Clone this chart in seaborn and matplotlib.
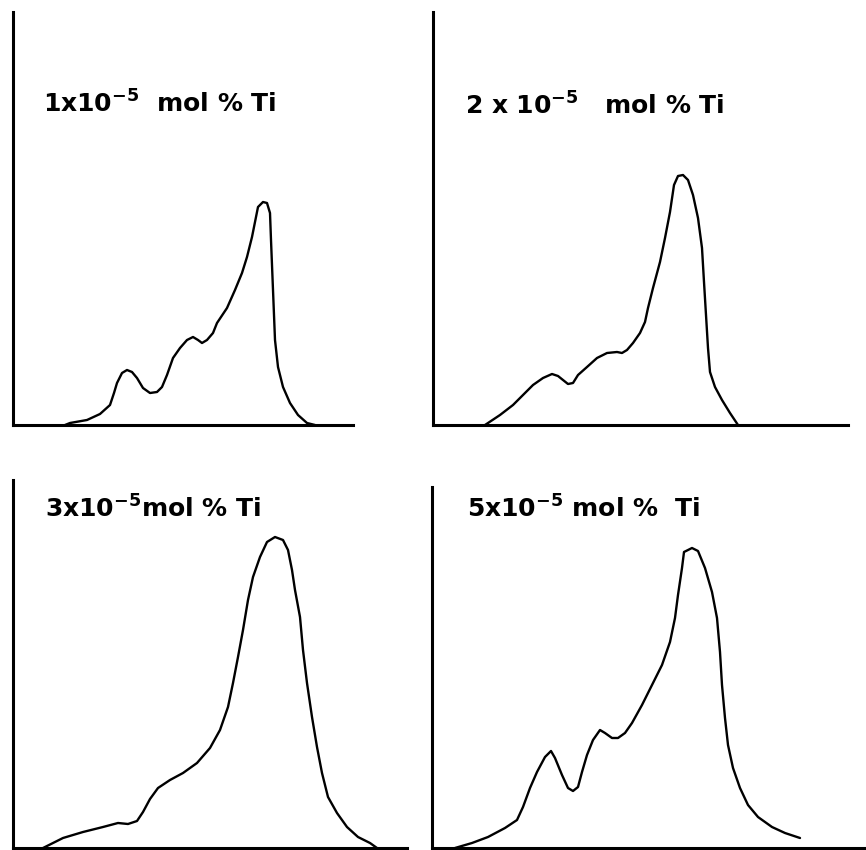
import matplotlib
matplotlib.use("Agg")
import matplotlib.pyplot as plt
import seaborn as sns

# Emission spectra, arbitrary units
# (x: along the wavelength axis, y: intensity above the baseline)
labels = [r"1x$10^{-5}$  mol % Ti", r"2 x $10^{-5}$   mol % Ti",
          r"3x$10^{-5}$mol % Ti", r"5x$10^{-5}$ mol %  Ti"]

x_1 = [52, 57, 74, 87, 97, 101, 104, 109, 114, 119, 124, 130, 137, 144, 149, 154, 160, 167, 174, 180,
       185, 189, 194, 200, 204, 214, 222, 229, 234, 239, 242, 245, 250, 254, 257, 258, 260, 262, 265, 270,
       277, 285, 294, 302]
y_1 = [0, 2, 5, 11, 20, 32, 42, 52, 55, 53, 47, 37, 32, 33, 38, 50, 67, 77, 85, 88,
       85, 82, 85, 92, 102, 117, 135, 152, 168, 188, 203, 218, 223, 222, 212, 185, 135, 85, 58, 38,
       22, 10, 2, 0]

x_2 = [52, 67, 80, 90, 100, 110, 119, 125, 130, 135, 140, 145, 154, 164, 174, 184, 189, 194, 200, 207,
       212, 215, 220, 227, 232, 237, 241, 245, 250, 255, 260, 265, 269, 271, 273, 275, 277, 282, 289, 297,
       305]
y_2 = [0, 10, 20, 30, 40, 47, 51, 49, 45, 41, 42, 50, 58, 67, 72, 73, 72, 75, 82, 92,
       103, 117, 137, 163, 187, 213, 240, 249, 250, 245, 230, 207, 177, 143, 110, 77, 53, 38, 25, 12,
       0]

x_3 = [30, 50, 70, 90, 105, 115, 124, 130, 137, 145, 157, 170, 184, 197, 207, 215, 220, 225, 230, 235,
       240, 247, 254, 262, 270, 275, 279, 282, 287, 290, 294, 299, 304, 309, 315, 324, 334, 345, 357, 364]
y_3 = [0, 10, 16, 21, 25, 24, 27, 36, 49, 60, 68, 75, 85, 100, 118, 141, 165, 191, 218, 248,
       271, 291, 306, 311, 308, 298, 278, 258, 231, 198, 165, 131, 101, 75, 51, 35, 21, 11, 5, 0]

x_4 = [23, 40, 56, 73, 85, 91, 98, 105, 113, 119, 123, 130, 136, 141, 146, 150, 155, 161, 168, 173,
       180, 186, 193, 200, 210, 220, 230, 238, 243, 246, 250, 252, 260, 266, 273, 280, 285, 288, 290, 293,
       296, 301, 308, 316, 326, 340, 353, 368]
y_4 = [0, 5, 11, 20, 28, 41, 60, 76, 91, 97, 90, 73, 60, 57, 61, 76, 93, 108, 118, 115,
       110, 110, 115, 125, 143, 163, 183, 206, 230, 253, 280, 296, 300, 297, 280, 256, 230, 196, 163, 130,
       103, 80, 60, 43, 31, 21, 15, 10]

series = [(x_1, y_1), (x_2, y_2), (x_3, y_3), (x_4, y_4)]

# panel boxes in pixels: left, top, right, bottom; label anchor in pixels
boxes = [(13, 12, 353, 425), (433, 12, 848, 425), (13, 480, 407, 848), (432, 487, 866, 848)]
label_pos = [(43, 113), (465, 115), (45, 518), (467, 518)]

W, H = 866, 850
sns.set_style("white")
plt.rcParams['mathtext.default'] = 'regular'
fig = plt.figure(figsize=(W / 100, H / 100), dpi=100)

for (xs, ys), (l, t, r, b), (tx, ty), lab in zip(series, boxes, label_pos, labels):
    ax = fig.add_axes([l / W, 1 - b / H, (r - l) / W, (b - t) / H])
    sns.lineplot(x=xs, y=ys, ax=ax, color='black', lw=1.7, sort=False, estimator=None)
    ax.lines[-1].set_solid_joinstyle('round')
    ax.set_xlim(0, r - l)
    ax.set_ylim(0, b - t)
    ax.set(xticks=[], yticks=[], xlabel='', ylabel='')
    sns.despine(ax=ax)
    for s in ['left', 'bottom']:
        ax.spines[s].set_linewidth(2.2)
        ax.spines[s].set_color('black')
    ax.patch.set_alpha(0)
    ax.text(tx - l, b - ty, lab, fontsize=18, fontweight='bold', va='baseline', ha='left', color='black')

plt.savefig('out.png', dpi=100)
